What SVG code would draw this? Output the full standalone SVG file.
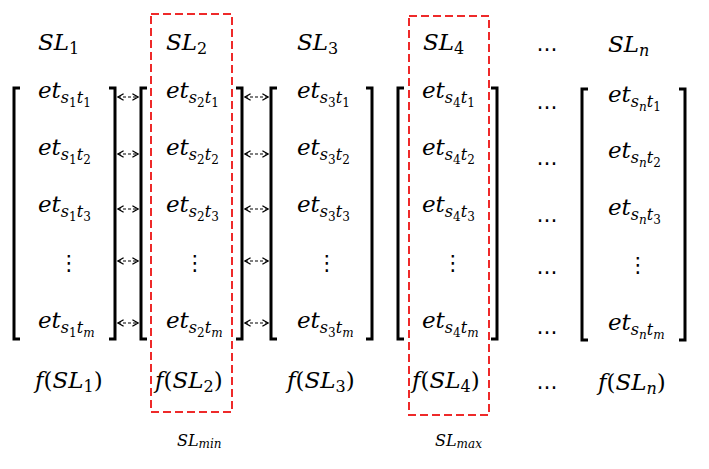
<svg xmlns="http://www.w3.org/2000/svg" width="709" height="469" viewBox="0 0 709 469">
<defs>
<style>
.m{font-family:"DejaVu Serif","Liberation Serif",serif;font-size:23px;font-style:italic;fill:#000}
.u{font-style:normal}
.s{font-size:16px}
.s2{font-size:12px}
.lab{font-family:"DejaVu Serif","Liberation Serif",serif;font-size:16px;font-style:italic;fill:#000}
.lab .s2{font-size:12px}
.dots{font-family:"DejaVu Sans",sans-serif;font-size:21px;fill:#000;text-anchor:middle}
.br{fill:none;stroke:#000;stroke-width:3}
.hl{fill:none;stroke:#ee2a2a;stroke-width:2;stroke-dasharray:8 4}
.ar{stroke:#000;stroke-width:1.2;stroke-dasharray:3 2;fill:none;marker-start:url(#ah);marker-end:url(#ah)}
</style>
<marker id="ah" viewBox="0 0 10 10" refX="9" refY="5" markerWidth="8" markerHeight="8" orient="auto-start-reverse" markerUnits="userSpaceOnUse">
<path d="M2,1 L9,5 L2,9" fill="none" stroke="#000" stroke-width="1.6"/>
</marker>
</defs>
<rect width="709" height="469" fill="#fff"/>

<g id="highlights">
<rect class="hl" x="151" y="14" width="81" height="398"/>
<rect class="hl" x="409" y="16" width="80" height="399"/>
</g>

<g id="col1">
<path class="br" d="M20,88 H14 V339 H20"/>
<path class="br" d="M109,88 H115 V339 H109"/>
<text class="m" x="38" y="50">SL<tspan class="s u" dy="4">1</tspan></text>
<text class="m" x="38" y="98">et<tspan class="s" dy="5">s</tspan><tspan class="s2 u" dy="4">1</tspan><tspan class="s" dy="-4">t</tspan><tspan class="s2 u" dy="4">1</tspan></text>
<text class="m" x="38" y="155">et<tspan class="s" dy="5">s</tspan><tspan class="s2 u" dy="4">1</tspan><tspan class="s" dy="-4">t</tspan><tspan class="s2 u" dy="4">2</tspan></text>
<text class="m" x="38" y="212">et<tspan class="s" dy="5">s</tspan><tspan class="s2 u" dy="4">1</tspan><tspan class="s" dy="-4">t</tspan><tspan class="s2 u" dy="4">3</tspan></text>
<text class="dots" x="69" y="270">⋮</text>
<text class="m" x="38" y="328">et<tspan class="s" dy="5">s</tspan><tspan class="s2 u" dy="4">1</tspan><tspan class="s" dy="-4">t</tspan><tspan class="s2" dy="4">m</tspan></text>
<text class="m" x="35" y="388">f<tspan class="u">(</tspan>SL<tspan class="s u" dy="4">1</tspan><tspan class="u" dy="-4">)</tspan></text>
</g>

<g id="col2">
<path class="br" d="M147,88 H141 V339 H147"/>
<path class="br" d="M236,88 H242 V339 H236"/>
<text class="m" x="166" y="50">SL<tspan class="s u" dy="4">2</tspan></text>
<text class="m" x="166" y="98">et<tspan class="s" dy="5">s</tspan><tspan class="s2 u" dy="4">2</tspan><tspan class="s" dy="-4">t</tspan><tspan class="s2 u" dy="4">1</tspan></text>
<text class="m" x="166" y="155">et<tspan class="s" dy="5">s</tspan><tspan class="s2 u" dy="4">2</tspan><tspan class="s" dy="-4">t</tspan><tspan class="s2 u" dy="4">2</tspan></text>
<text class="m" x="166" y="212">et<tspan class="s" dy="5">s</tspan><tspan class="s2 u" dy="4">2</tspan><tspan class="s" dy="-4">t</tspan><tspan class="s2 u" dy="4">3</tspan></text>
<text class="dots" x="195" y="270">⋮</text>
<text class="m" x="166" y="328">et<tspan class="s" dy="5">s</tspan><tspan class="s2 u" dy="4">2</tspan><tspan class="s" dy="-4">t</tspan><tspan class="s2" dy="4">m</tspan></text>
<text class="m" x="155" y="388">f<tspan class="u">(</tspan>SL<tspan class="s u" dy="4">2</tspan><tspan class="u" dy="-4">)</tspan></text>
<text class="lab" x="177" y="446">SL<tspan class="s2" dy="2">min</tspan></text>
</g>

<g id="col3">
<path class="br" d="M277,88 H271 V339 H277"/>
<path class="br" d="M366,88 H372 V339 H366"/>
<text class="m" x="297" y="50">SL<tspan class="s u" dy="4">3</tspan></text>
<text class="m" x="297" y="98">et<tspan class="s" dy="5">s</tspan><tspan class="s2 u" dy="4">3</tspan><tspan class="s" dy="-4">t</tspan><tspan class="s2 u" dy="4">1</tspan></text>
<text class="m" x="297" y="155">et<tspan class="s" dy="5">s</tspan><tspan class="s2 u" dy="4">3</tspan><tspan class="s" dy="-4">t</tspan><tspan class="s2 u" dy="4">2</tspan></text>
<text class="m" x="297" y="212">et<tspan class="s" dy="5">s</tspan><tspan class="s2 u" dy="4">3</tspan><tspan class="s" dy="-4">t</tspan><tspan class="s2 u" dy="4">3</tspan></text>
<text class="dots" x="327" y="270">⋮</text>
<text class="m" x="297" y="328">et<tspan class="s" dy="5">s</tspan><tspan class="s2 u" dy="4">3</tspan><tspan class="s" dy="-4">t</tspan><tspan class="s2" dy="4">m</tspan></text>
<text class="m" x="287" y="388">f<tspan class="u">(</tspan>SL<tspan class="s u" dy="4">3</tspan><tspan class="u" dy="-4">)</tspan></text>
</g>

<g id="col4">
<path class="br" d="M404,88 H398 V339 H404"/>
<path class="br" d="M491,88 H497 V339 H491"/>
<text class="m" x="423" y="50">SL<tspan class="s u" dy="4">4</tspan></text>
<text class="m" x="422" y="98">et<tspan class="s" dy="5">s</tspan><tspan class="s2 u" dy="4">4</tspan><tspan class="s" dy="-4">t</tspan><tspan class="s2 u" dy="4">1</tspan></text>
<text class="m" x="422" y="155">et<tspan class="s" dy="5">s</tspan><tspan class="s2 u" dy="4">4</tspan><tspan class="s" dy="-4">t</tspan><tspan class="s2 u" dy="4">2</tspan></text>
<text class="m" x="422" y="212">et<tspan class="s" dy="5">s</tspan><tspan class="s2 u" dy="4">4</tspan><tspan class="s" dy="-4">t</tspan><tspan class="s2 u" dy="4">3</tspan></text>
<text class="dots" x="453" y="270">⋮</text>
<text class="m" x="422" y="328">et<tspan class="s" dy="5">s</tspan><tspan class="s2 u" dy="4">4</tspan><tspan class="s" dy="-4">t</tspan><tspan class="s2" dy="4">m</tspan></text>
<text class="m" x="412" y="388">f<tspan class="u">(</tspan>SL<tspan class="s u" dy="4">4</tspan><tspan class="u" dy="-4">)</tspan></text>
<text class="lab" x="435" y="446">SL<tspan class="s2" dy="2">max</tspan></text>
</g>

<g id="ellipsis">
<text class="dots" x="547" y="51">…</text>
<text class="dots" x="547" y="109">…</text>
<text class="dots" x="547" y="165">…</text>
<text class="dots" x="547" y="222">…</text>
<text class="dots" x="547" y="274">…</text>
<text class="dots" x="547" y="334">…</text>
<text class="dots" x="547" y="389">…</text>
</g>

<g id="coln">
<path class="br" d="M588,89 H582 V340 H588"/>
<path class="br" d="M679,89 H685 V340 H679"/>
<text class="m" x="608" y="52">SL<tspan class="s" dy="4">n</tspan></text>
<text class="m" x="608" y="102">et<tspan class="s" dy="5">s</tspan><tspan class="s2" dy="4">n</tspan><tspan class="s" dy="-4">t</tspan><tspan class="s2 u" dy="4">1</tspan></text>
<text class="m" x="608" y="158">et<tspan class="s" dy="5">s</tspan><tspan class="s2" dy="4">n</tspan><tspan class="s" dy="-4">t</tspan><tspan class="s2 u" dy="4">2</tspan></text>
<text class="m" x="608" y="215">et<tspan class="s" dy="5">s</tspan><tspan class="s2" dy="4">n</tspan><tspan class="s" dy="-4">t</tspan><tspan class="s2 u" dy="4">3</tspan></text>
<text class="dots" x="638" y="272">⋮</text>
<text class="m" x="608" y="330">et<tspan class="s" dy="5">s</tspan><tspan class="s2" dy="4">n</tspan><tspan class="s" dy="-4">t</tspan><tspan class="s2" dy="4">m</tspan></text>
<text class="m" x="598" y="390">f<tspan class="u">(</tspan>SL<tspan class="s" dy="4">n</tspan><tspan class="u" dy="-4">)</tspan></text>
</g>

<g id="connectors">
<line class="ar" x1="118" y1="97" x2="138" y2="97"/>
<line class="ar" x1="118" y1="154" x2="138" y2="154"/>
<line class="ar" x1="118" y1="209" x2="138" y2="209"/>
<line class="ar" x1="118" y1="261" x2="138" y2="261"/>
<line class="ar" x1="118" y1="323" x2="138" y2="323"/>
<line class="ar" x1="245" y1="97" x2="268" y2="97"/>
<line class="ar" x1="245" y1="154" x2="268" y2="154"/>
<line class="ar" x1="245" y1="209" x2="268" y2="209"/>
<line class="ar" x1="245" y1="261" x2="268" y2="261"/>
<line class="ar" x1="245" y1="323" x2="268" y2="323"/>
</g>
</svg>
